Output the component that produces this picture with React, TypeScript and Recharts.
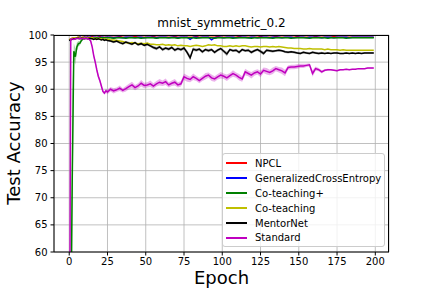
import React from 'react';
import { ComposedChart, Line, Area, XAxis, YAxis, CartesianGrid, Legend } from 'recharts';

// epochs: every epoch up to 25, then every second one
const epochs = [
  0, 1, 2, 3, 4, 5, 6, 7, 8, 9, 10, 11, 12,
  13, 14, 15, 16, 17, 18, 19, 20, 21, 22, 23, 24, 25,
  27, 29, 31, 33, 35, 37, 39, 41, 43, 45,
  47, 49, 51, 53, 55, 57, 59, 61, 63, 65,
  67, 69, 71, 73, 75, 77, 79, 81, 83, 85,
  87, 89, 91, 93, 95, 97, 99, 101, 103, 105,
  107, 109, 111, 113, 115, 117, 119, 121, 123, 125,
  127, 129, 131, 133, 135, 137, 139, 141, 143, 145,
  147, 149, 151, 153, 155, 157, 159, 161, 163, 165,
  167, 169, 171, 173, 175, 177, 179, 181, 183, 185,
  187, 189, 191, 193, 195, 197, 199,
];

const npcl = [
  99.1, 99.3, 99.4, 99.4, 99.5, 99.5, 99.6, 99.6, 99.5, 99.6, 99.6, 99.6, 99.6,
  99.6, 99.6, 99.7, 99.6, 99.6, 99.6, 99.6, 99.7, 99.6, 99.6, 99.6, 99.6, 99.6,
  99.6, 99.6, 99.6, 99.7, 99.6, 99.6, 99.6, 99.6, 99.7, 99.6,
  99.6, 99.6, 99.6, 99.6, 99.7, 99.6, 99.6, 99.6, 99.6, 99.6,
  99.6, 99.7, 99.6, 99.6, 99.6, 99.6, 99.6, 99.6, 99.7, 99.6,
  99.6, 99.6, 99.6, 99.6, 99.6, 99.7, 99.6, 99.6, 99.6, 99.6,
  99.6, 99.6, 99.7, 99.6, 99.6, 99.6, 99.6, 99.6, 99.6, 99.7,
  99.6, 99.6, 99.6, 99.6, 99.7, 99.6, 99.6, 99.6, 99.6, 99.6,
  99.6, 99.7, 99.6, 99.6, 99.6, 99.6, 99.6, 99.7, 99.6, 99.6,
  99.6, 99.6, 99.6, 99.7, 99.6, 99.6, 99.6, 99.6, 99.6, 99.6,
  99.6, 99.6, 99.6, 99.6, 99.6, 99.6, 99.6,
];

const gce = [
  99.0, 99.2, 99.3, 99.4, 99.5, 99.5, 99.5, 99.6, 99.5, 99.5, 99.6, 99.5, 99.6,
  99.5, 99.6, 99.5, 99.6, 99.6, 99.5, 99.6, 99.5, 99.6, 99.6, 99.5, 99.6, 99.6,
  99.6, 99.5, 99.6, 99.6, 99.5, 99.6, 99.6, 99.6, 99.5, 99.6,
  99.6, 99.5, 99.6, 99.6, 99.6, 99.5, 99.6, 99.6, 99.6, 99.5,
  99.6, 99.6, 99.5, 99.6, 99.6, 99.6, 99.2, 99.6, 99.6, 99.5,
  99.6, 99.6, 99.6, 99.1, 99.5, 99.6, 99.6, 99.5, 99.6, 99.6,
  99.6, 99.5, 99.6, 99.6, 99.6, 99.5, 99.6, 99.6, 99.5, 99.6,
  99.6, 99.6, 99.5, 99.6, 99.6, 99.6, 99.5, 99.6, 99.6, 99.6,
  99.5, 99.6, 99.6, 99.6, 99.5, 99.6, 99.6, 99.6, 99.6, 99.5,
  99.6, 99.6, 99.6, 99.5, 99.6, 99.6, 99.6, 99.6, 99.5, 99.6,
  99.6, 99.6, 99.6, 99.6, 99.6, 99.6, 99.6,
];

const coteachPlus = [
  20, 45, 74.2, 97.0, 96.0, 97.8, 98.4, 98.5, 99.0, 99.3, 99.4, 99.4, 99.5,
  99.4, 99.5, 99.5, 99.4, 99.5, 99.5, 99.5, 99.4, 99.5, 99.5, 99.5, 99.5, 99.5,
  99.5, 99.4, 99.5, 99.5, 99.5, 99.4, 99.5, 99.5, 99.5, 99.5,
  99.4, 99.5, 99.5, 99.5, 99.5, 99.4, 99.5, 99.5, 99.5, 99.5,
  99.5, 99.5, 99.4, 99.5, 99.5, 99.5, 99.5, 99.5, 99.4, 99.5,
  99.5, 99.5, 99.5, 99.5, 99.4, 99.5, 99.5, 99.5, 99.5, 99.5,
  99.4, 99.5, 99.5, 99.5, 99.5, 99.5, 99.4, 99.5, 99.5, 99.5,
  99.5, 99.5, 99.5, 99.4, 99.5, 99.5, 99.5, 99.5, 99.5, 99.4,
  99.5, 99.5, 99.5, 99.5, 99.5, 99.4, 99.5, 99.5, 99.5, 99.5,
  99.5, 99.4, 99.5, 99.5, 99.5, 99.5, 99.5, 99.4, 99.5, 99.5,
  99.5, 99.5, 99.5, 99.5, 99.5, 99.5, 99.5,
];

const coteachPlusStd = [
  5, 10, 15, 1.5, 1.5, 0.8, 0.5, 0.4, 0.3, 0.2, 0.1, 0.1, 0.1,
  0.1, 0.1, 0.1, 0.1, 0.1, 0.1, 0.1, 0.1, 0.1, 0.1, 0.1, 0.1, 0.1,
  0.1, 0.1, 0.1, 0.1, 0.1, 0.1, 0.1, 0.1, 0.1, 0.1,
  0.1, 0.1, 0.1, 0.1, 0.1, 0.1, 0.1, 0.1, 0.1, 0.1,
  0.1, 0.1, 0.1, 0.1, 0.1, 0.1, 0.1, 0.1, 0.1, 0.1,
  0.1, 0.1, 0.1, 0.1, 0.1, 0.1, 0.1, 0.1, 0.1, 0.1,
  0.1, 0.1, 0.1, 0.1, 0.1, 0.1, 0.1, 0.1, 0.1, 0.1,
  0.1, 0.1, 0.1, 0.1, 0.1, 0.1, 0.1, 0.1, 0.1, 0.1,
  0.1, 0.1, 0.1, 0.1, 0.1, 0.1, 0.1, 0.1, 0.1, 0.1,
  0.1, 0.1, 0.1, 0.1, 0.1, 0.1, 0.1, 0.1, 0.1, 0.1,
  0.1, 0.1, 0.1, 0.1, 0.1, 0.1, 0.1,
];

const coteach = [
  99.1, 99.3, 99.4, 99.5, 99.5, 99.5, 99.6, 99.5, 99.5, 99.6, 99.5, 99.5, 99.5,
  99.5, 99.4, 99.5, 99.4, 99.4, 99.3, 99.4, 99.3, 99.3, 99.2, 99.3, 99.2, 99.2,
  99.1, 99.1, 99.0, 98.9, 98.8, 98.6, 98.5, 98.6, 98.5, 98.4,
  98.5, 98.4, 98.5, 98.3, 98.3, 98.2, 98.2, 98.3, 98.1, 98.2,
  98.1, 98.2, 98.0, 98.1, 98.0, 98.0, 97.9, 98.0, 98.1, 98.0,
  97.9, 98.0, 98.2, 98.1, 98.2, 98.0, 98.0, 97.9, 97.9, 98.0,
  97.9, 98.0, 97.9, 98.0, 98.0, 97.9, 97.8, 97.9, 97.9, 97.8,
  97.9, 97.9, 97.8, 97.9, 97.8, 97.9, 97.8, 97.7, 97.6, 97.6,
  97.5, 97.5, 97.5, 97.4, 97.4, 97.5, 97.4, 97.4, 97.4, 97.4,
  97.3, 97.4, 97.3, 97.3, 97.3, 97.2, 97.3, 97.2, 97.2, 97.2,
  97.2, 97.2, 97.2, 97.2, 97.2, 97.2, 97.2,
];

const mentor = [
  99.0, 99.1, 99.2, 99.3, 99.3, 99.4, 99.4, 99.3, 99.4, 99.4, 99.3, 99.4, 99.3,
  99.4, 99.3, 99.3, 99.2, 99.3, 99.2, 99.3, 99.2, 99.1, 99.2, 99.0, 99.1, 99.0,
  98.9, 98.7, 98.9, 98.6, 98.4, 98.7, 98.5, 98.3, 98.6, 98.2,
  98.4, 98.1, 98.3, 98.0, 97.7, 97.5, 97.8, 97.3, 97.6, 97.4,
  97.7, 97.2, 97.5, 97.3, 97.6, 96.8, 95.8, 97.4, 97.2, 97.4,
  96.9, 97.3, 97.1, 97.3, 96.8, 97.2, 97.5, 97.0, 96.5, 97.3,
  97.1, 97.2, 96.8, 97.3, 97.1, 97.2, 96.8, 97.1, 97.3, 97.0,
  96.6, 97.2, 97.1, 97.0, 97.1, 97.2, 97.1, 96.9, 96.8, 96.9,
  96.8, 96.7, 96.6, 96.8, 96.7, 96.6, 96.8, 96.7, 96.6, 96.7,
  96.6, 96.7, 96.6, 96.7, 96.7, 96.6, 96.6, 96.7, 96.6, 96.7,
  96.6, 96.7, 96.6, 96.7, 96.7, 96.7, 96.7,
];

const mentorStd = [
  0.1, 0.1, 0.1, 0.1, 0.1, 0.1, 0.1, 0.1, 0.1, 0.1, 0.1, 0.1, 0.1,
  0.1, 0.1, 0.1, 0.1, 0.1, 0.1, 0.1, 0.1, 0.1, 0.1, 0.1, 0.1, 0.1,
  0.2, 0.2, 0.25, 0.2, 0.25, 0.2, 0.25, 0.25, 0.2, 0.25,
  0.25, 0.2, 0.25, 0.25, 0.3, 0.3, 0.25, 0.3, 0.25, 0.3,
  0.25, 0.3, 0.25, 0.3, 0.25, 0.4, 0.5, 0.3, 0.3, 0.25,
  0.3, 0.25, 0.3, 0.25, 0.3, 0.25, 0.25, 0.3, 0.4, 0.25,
  0.25, 0.25, 0.3, 0.25, 0.25, 0.25, 0.3, 0.25, 0.25, 0.3,
  0.35, 0.25, 0.25, 0.25, 0.2, 0.2, 0.2, 0.2, 0.2, 0.2,
  0.2, 0.2, 0.2, 0.2, 0.2, 0.2, 0.2, 0.2, 0.2, 0.2,
  0.15, 0.15, 0.15, 0.15, 0.15, 0.15, 0.15, 0.15, 0.15, 0.15,
  0.15, 0.15, 0.15, 0.15, 0.15, 0.15, 0.15,
];

const standard = [
  20, 99.2, 99.3, 99.2, 99.3, 99.4, 99.3, 99.4, 99.3, 99.4, 99.3, 99.4, 99.3,
  99.2, 98.9, 97.8, 96.2, 95.0, 93.6, 92.4, 91.6, 90.6, 89.6, 89.3, 89.7, 89.5,
  90.0, 89.7, 89.9, 90.2, 89.8, 90.1, 90.5, 90.8, 90.3, 90.6,
  91.1, 90.7, 90.8, 91.0, 90.6, 91.0, 91.3, 91.1, 91.4, 90.8,
  91.1, 91.3, 90.8, 91.0, 92.3, 92.0, 91.8, 92.3, 92.0, 91.6,
  92.0, 92.4, 92.6, 92.1, 91.9, 92.3, 92.6, 92.4, 92.1, 92.5,
  92.9, 92.6, 92.2, 91.9, 93.2, 92.9, 92.6, 93.0, 93.2, 92.8,
  93.5, 93.3, 93.1, 93.4, 93.8, 93.6, 93.4, 93.0, 94.0, 94.1,
  94.1, 94.2, 94.3, 94.3, 94.4, 94.5, 92.9, 93.8, 93.6, 93.2,
  93.5, 93.6, 93.6, 93.5, 93.4, 93.6, 93.6, 93.7, 93.6, 93.7,
  93.7, 93.8, 93.8, 93.8, 93.9, 93.9, 93.9,
];

const standardStd = [
  0, 0.1, 0.1, 0.1, 0.1, 0.1, 0.1, 0.1, 0.1, 0.1, 0.1, 0.1, 0.1,
  0.1, 0.2, 0.4, 0.5, 0.5, 0.5, 0.5, 0.4, 0.4, 0.3, 0.3, 0.4, 0.4,
  0.4, 0.5, 0.4, 0.5, 0.4, 0.5, 0.5, 0.6, 0.5, 0.5,
  0.6, 0.5, 0.5, 0.6, 0.5, 0.5, 0.6, 0.5, 0.6, 0.5,
  0.5, 0.6, 0.5, 0.5, 0.6, 0.6, 0.5, 0.6, 0.5, 0.5,
  0.5, 0.6, 0.5, 0.6, 0.5, 0.5, 0.6, 0.5, 0.6, 0.5,
  0.6, 0.5, 0.6, 0.5, 0.6, 0.5, 0.6, 0.5, 0.5, 0.6,
  0.5, 0.6, 0.5, 0.6, 0.5, 0.5, 0.6, 0.6, 0.4, 0.4,
  0.4, 0.4, 0.4, 0.4, 0.3, 0.3, 0.6, 0.4, 0.3, 0.3,
  0.2, 0.2, 0.15, 0.15, 0.15, 0.15, 0.1, 0.1, 0.1, 0.1,
  0.1, 0.1, 0.1, 0.1, 0.1, 0.1, 0.1,
];

const xTicks = [0, 25, 50, 75, 100, 125, 150, 175, 200];
const yTicks = [60, 65, 70, 75, 80, 85, 90, 95, 100];

const SERIES = [
  { key: 'npcl', name: 'NPCL', color: '#ff0000' },
  { key: 'gce', name: 'GeneralizedCrossEntropy', color: '#0000ff' },
  { key: 'coteachPlus', name: 'Co-teaching+', color: '#008000' },
  { key: 'coteach', name: 'Co-teaching', color: '#bfbf00' },
  { key: 'mentor', name: 'MentorNet', color: '#000000' },
  { key: 'standard', name: 'Standard', color: '#bf00bf' },
];

const band = (v: number, s: number) => [v - s, v + s];

const data = epochs.map((epoch, i) => ({
  epoch,
  npcl: npcl[i],
  gce: gce[i],
  coteachPlus: coteachPlus[i],
  coteach: coteach[i],
  mentor: mentor[i],
  standard: standard[i],
  coteachPlusBand: band(coteachPlus[i], coteachPlusStd[i]),
  mentorBand: band(mentor[i], mentorStd[i]),
  standardBand: band(standard[i], standardStd[i]),
}));

const FONT = '"DejaVu Sans", sans-serif';

const LegendBox = () => (
  <div
    style={{
      boxSizing: 'border-box',
      width: 163,
      height: 94,
      padding: '2px 0 0 0',
      background: 'rgba(255,255,255,0.8)',
      border: '1px solid #cccccc',
      borderRadius: 3,
      fontFamily: FONT,
      fontSize: 10,
      color: '#000',
    }}
  >
    {SERIES.map((s) => (
      <div key={s.key} style={{ display: 'flex', alignItems: 'center', height: 14.9 }}>
        <div style={{ width: 21, height: 2, marginLeft: 3, marginRight: 8, background: s.color }} />
        <span>{s.name}</span>
      </div>
    ))}
  </div>
);

export default function App() {
  const tickStyle = { fontSize: 10, fill: '#000', fontFamily: FONT };
  return (
    <div style={{ position: 'absolute', left: 0, top: 0, width: 432, height: 288, background: '#fff', fontFamily: FONT }}>
      <div style={{ position: 'absolute', left: 54, width: 335, top: 16, textAlign: 'center', fontSize: 12, lineHeight: '14px' }}>
        mnist_symmetric_0.2
      </div>
      <ComposedChart width={432} height={288} data={data} margin={{ top: 35, right: 43, bottom: 0, left: 0 }}>
        <CartesianGrid stroke="#b0b0b0" strokeWidth={0.8} />
        <XAxis
          type="number"
          dataKey="epoch"
          domain={[-9.95, 208.95]}
          ticks={xTicks}
          allowDataOverflow
          height={36}
          tick={tickStyle}
          tickSize={3.5}
          tickMargin={2}
          stroke="#000"
        />
        <YAxis
          type="number"
          domain={[60, 100]}
          ticks={yTicks}
          allowDataOverflow
          width={54}
          tick={tickStyle}
          tickSize={3.5}
          tickMargin={3}
          stroke="#000"
        />
        <Line dataKey="npcl" stroke="#ff0000" strokeWidth={1.5} dot={false} activeDot={false} isAnimationActive={false} />
        <Line dataKey="gce" stroke="#0000ff" strokeWidth={1.5} dot={false} activeDot={false} isAnimationActive={false} />
        <Area dataKey="coteachPlusBand" stroke="none" fill="#008000" fillOpacity={0.3} activeDot={false} isAnimationActive={false} />
        <Line dataKey="coteachPlus" stroke="#008000" strokeWidth={1.5} dot={false} activeDot={false} isAnimationActive={false} />
        <Line dataKey="coteach" stroke="#bfbf00" strokeWidth={1.5} dot={false} activeDot={false} isAnimationActive={false} />
        <Area dataKey="mentorBand" stroke="none" fill="#000000" fillOpacity={0.3} activeDot={false} isAnimationActive={false} />
        <Line dataKey="mentor" stroke="#000000" strokeWidth={1.5} dot={false} activeDot={false} isAnimationActive={false} />
        <Area dataKey="standardBand" stroke="none" fill="#bf00bf" fillOpacity={0.3} activeDot={false} isAnimationActive={false} />
        <Line dataKey="standard" stroke="#bf00bf" strokeWidth={1.5} dot={false} activeDot={false} isAnimationActive={false} />
        <Legend
          layout="vertical"
          align="center"
          verticalAlign="middle"
          content={() => <LegendBox />}
          wrapperStyle={{ left: 222, top: 153, width: 163, height: 94 }}
        />
      </ComposedChart>
      <div
        style={{
          position: 'absolute',
          left: 54,
          top: 35,
          width: 335,
          height: 217,
          boxSizing: 'border-box',
          borderTop: '1px solid #000',
          borderRight: '1px solid #000',
          pointerEvents: 'none',
        }}
      />
      <div style={{ position: 'absolute', left: 54, width: 335, top: 268, textAlign: 'center', fontSize: 18, lineHeight: '20px' }}>
        Epoch
      </div>
      <div
        style={{
          position: 'absolute',
          left: 14,
          top: 143,
          transform: 'translate(-50%, -50%) rotate(-90deg)',
          whiteSpace: 'nowrap',
          fontSize: 18,
          lineHeight: '20px',
        }}
      >
        Test Accuracy
      </div>
    </div>
  );
}
